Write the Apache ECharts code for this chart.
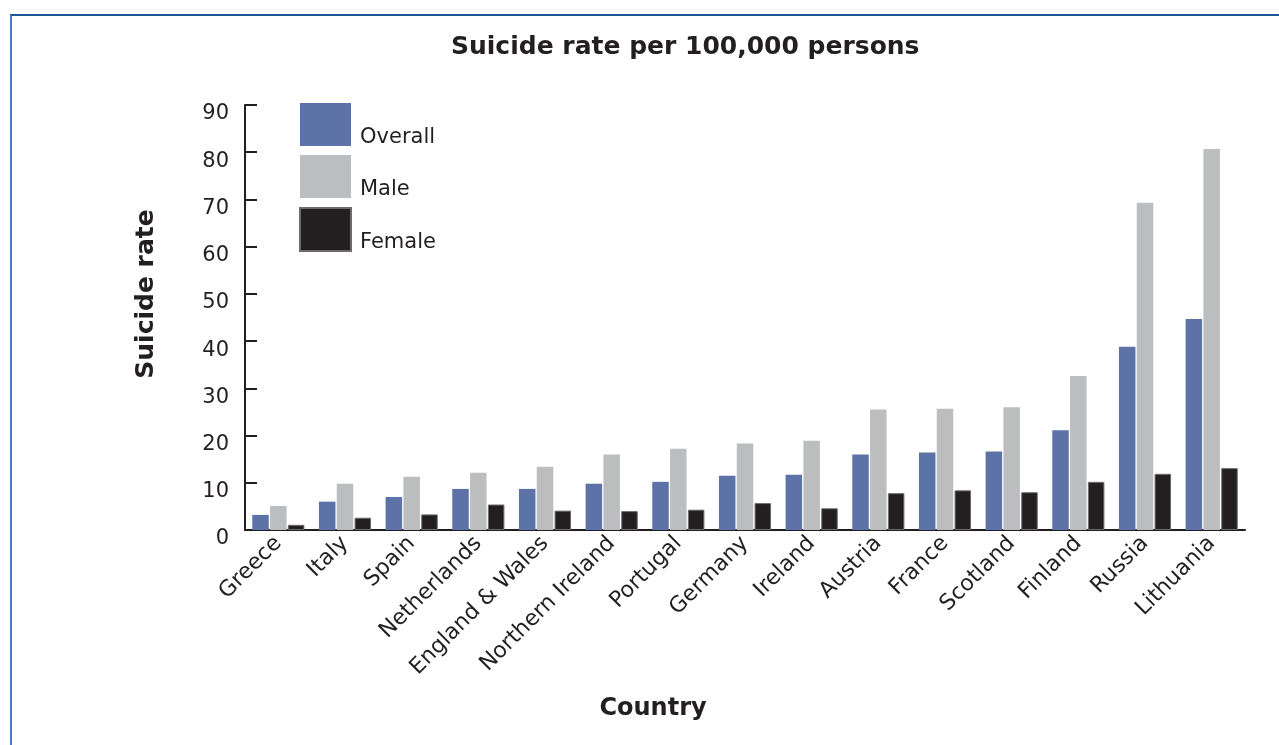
<!DOCTYPE html>
<html>
<head>
<meta charset="utf-8">
<script src="https://cdn.jsdelivr.net/npm/echarts@6/dist/echarts.min.js"></script>
<style>
  html, body { margin: 0; padding: 0; background: #fff; }
  #frame { position: absolute; left: 10px; top: 14px; width: 1400px; height: 900px;
           border-top: 2px solid #1d559b; border-left: 2px solid #4d7db8; }
  #chart { position: absolute; left: 0; top: 0; width: 1279px; height: 745px; }
</style>
</head>
<body>
<div id="frame"></div>
<div id="chart"></div>
<script>
const categories = ["Greece", "Italy", "Spain", "Netherlands", "England & Wales", "Northern Ireland",
  "Portugal", "Germany", "Ireland", "Austria", "France", "Scotland", "Finland", "Russia", "Lithuania"];
const overall = [3.2, 6.0, 7.0, 8.7, 8.7, 9.8, 10.2, 11.5, 11.7, 16.0, 16.4, 16.6, 21.1, 38.8, 44.7];
const male    = [5.1, 9.8, 11.3, 12.1, 13.4, 16.0, 17.2, 18.3, 18.9, 25.5, 25.7, 26.0, 32.6, 69.3, 80.7];
const female  = [1.1, 2.6, 3.3, 5.4, 4.1, 4.0, 4.3, 5.7, 4.6, 7.8, 8.4, 8.0, 10.2, 11.9, 13.1];
const yTicks = { min: 0, max: 90, interval: 10 };

const FONT = "DejaVu Sans";
const chart = echarts.init(document.getElementById('chart'), null, { renderer: 'canvas' });
chart.setOption({
  animation: false,
  backgroundColor: 'transparent',
  title: {
    text: 'Suicide rate per 100,000 persons',
    left: 446, top: 30,
    textStyle: { fontFamily: FONT, fontWeight: 'bold', fontSize: 25, color: '#231f20' }
  },
  legend: {
    orient: 'vertical', left: 299, top: 103, padding: 0,
    itemWidth: 51, itemHeight: 43, itemGap: 7,
    icon: 'rect',
    data: ['Overall', 'Male', 'Female'],
    formatter: '{t|{name}}',
    textStyle: {
      fontFamily: FONT, fontSize: 21, color: '#231f20',
      rich: { t: { fontFamily: FONT, fontSize: 21, color: '#231f20', padding: [26, 0, 0, 4] } }
    }
  },
  grid: { left: 245, right: 34, top: 105, bottom: 215, containLabel: false },
  xAxis: {
    type: 'category',
    data: categories,
    name: 'Country',
    nameLocation: 'middle',
    nameGap: 167,
    nameTextStyle: { fontFamily: FONT, fontWeight: 'bold', fontSize: 24, color: '#231f20', padding: [0, 184, 0, 0] },
    axisLine: { lineStyle: { color: '#231f20', width: 2 } },
    axisTick: { inside: true, length: 10, lineStyle: { color: '#231f20', width: 2 } },
    axisLabel: { rotate: 45, margin: 10, fontFamily: FONT, fontSize: 22, color: '#231f20', interval: 0 }
  },
  yAxis: {
    type: 'value',
    min: yTicks.min, max: yTicks.max, interval: yTicks.interval,
    name: 'Suicide rate',
    nameLocation: 'middle',
    nameGap: 86,
    nameTextStyle: { fontFamily: FONT, fontWeight: 'bold', fontSize: 25, color: '#231f20', padding: [0, 0, 0, 47] },
    splitLine: { show: false },
    axisLine: { show: true, lineStyle: { color: '#231f20', width: 2 } },
    axisTick: { show: true, inside: true, length: 12, lineStyle: { color: '#231f20', width: 2 } },
    axisLabel: { margin: 16, fontFamily: FONT, fontSize: 21, color: '#231f20', verticalAlign: 'top', lineHeight: 18 }
  },
  series: [
    { name: 'Overall', type: 'bar', data: overall, barWidth: 16.5, barGap: '8%', itemStyle: { color: '#5d72a7' } },
    { name: 'Male', type: 'bar', data: male, barWidth: 16.5, barGap: '8%', itemStyle: { color: '#bcbdbf' } },
    { name: 'Female', type: 'bar', data: female, barWidth: 16.5, barGap: '8%', itemStyle: { color: '#231f20', borderColor: '#6d6b6c', borderWidth: 1 } }
  ]
});
</script>
</body>
</html>
